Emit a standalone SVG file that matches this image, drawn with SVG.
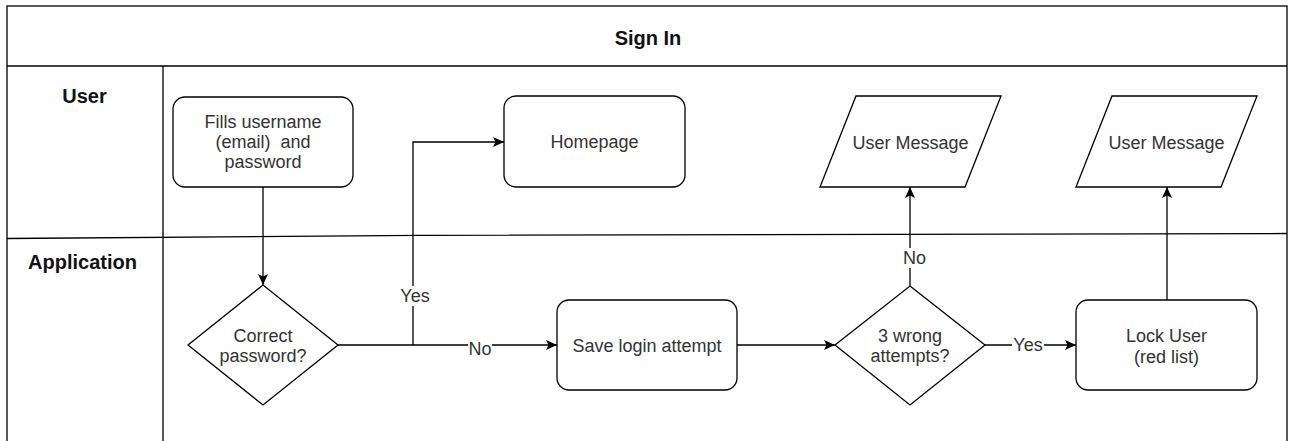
<svg xmlns="http://www.w3.org/2000/svg" width="1293" height="441" viewBox="0 0 1293 441">
<style>
.frame{fill:none;stroke:#000;stroke-width:1.3}
.shape{fill:#fff;stroke:#000;stroke-width:1.3}
.edge{fill:none;stroke:#000;stroke-width:1.3}
.lane{font-family:"Liberation Sans",Arial,sans-serif;font-size:20px;font-weight:bold;fill:#111;text-anchor:middle}
.lbl{font-family:"Liberation Sans",Arial,sans-serif;font-size:18px;fill:#333;text-anchor:middle;white-space:pre}
.bg{fill:#fff}
</style>
<defs>
<marker id="arr" markerUnits="userSpaceOnUse" markerWidth="12" markerHeight="10" refX="11" refY="5" orient="auto">
<path d="M0,0 L11,5 L0,10 L2.5,5 Z" fill="#000"/>
</marker>
</defs>
<g id="pool">
<rect class="frame" x="7" y="6" width="1280" height="445"/>
<line class="frame" x1="7" y1="66" x2="1287" y2="66"/>
<line class="frame" x1="163" y1="66" x2="163" y2="451"/>
<polyline class="frame" points="7,238.5 420,235.3 1287,233.5"/>
<text class="lane" x="648" y="45">Sign In</text>
<text class="lane" x="84.5" y="103">User</text>
<text class="lane" x="82.5" y="269">Application</text>
</g>
<g id="connectors">
<path class="edge" d="M263,187 V285" marker-end="url(#arr)"/>
<path class="edge" d="M338,345 H413 V142 H504" marker-end="url(#arr)"/>
<path class="edge" d="M413,345 H557" marker-end="url(#arr)"/>
<path class="edge" d="M737,345 H835" marker-end="url(#arr)"/>
<path class="edge" d="M910,286 V187" marker-end="url(#arr)"/>
<path class="edge" d="M985,345 H1076" marker-end="url(#arr)"/>
<path class="edge" d="M1167,300 V187" marker-end="url(#arr)"/>
<rect class="bg" x="399" y="286" width="32" height="20"/>
<text class="lbl" x="415" y="302">Yes</text>
<rect class="bg" x="468" y="338" width="24" height="20"/>
<text class="lbl" x="480" y="355">No</text>
<rect class="bg" x="902" y="248" width="24" height="20"/>
<text class="lbl" x="914.5" y="264">No</text>
<rect class="bg" x="1012" y="335" width="32" height="20"/>
<text class="lbl" x="1028" y="351">Yes</text>
</g>
<g id="fills">
<rect class="shape" x="173" y="97" width="180" height="90" rx="12"/>
<text class="lbl" x="263" y="128">Fills username</text>
<text class="lbl" x="263" y="148">(email)  and</text>
<text class="lbl" x="263" y="168">password</text>
</g>
<g id="homepage">
<rect class="shape" x="504" y="96" width="181" height="91" rx="12"/>
<text class="lbl" x="594.5" y="148">Homepage</text>
</g>
<g id="correct">
<polygon class="shape" points="263,285 338,345 263,405 188,345"/>
<text class="lbl" x="263" y="342">Correct</text>
<text class="lbl" x="263" y="362">password?</text>
</g>
<g id="save">
<rect class="shape" x="557" y="300" width="180" height="90" rx="12"/>
<text class="lbl" x="647" y="352">Save login attempt</text>
</g>
<g id="wrong">
<polygon class="shape" points="910,286 985,345 910,405 835,345"/>
<text class="lbl" x="910" y="342">3 wrong</text>
<text class="lbl" x="910" y="362">attempts?</text>
</g>
<g id="lock">
<rect class="shape" x="1076" y="300" width="181" height="90" rx="12"/>
<text class="lbl" x="1166.5" y="342">Lock User</text>
<text class="lbl" x="1166.5" y="363">(red list)</text>
</g>
<g id="msg1">
<polygon class="shape" points="856,96 1001,96 965,187 820,187"/>
<text class="lbl" x="910.5" y="149">User Message</text>
</g>
<g id="msg2">
<polygon class="shape" points="1112,96 1257,96 1221,187 1076,187"/>
<text class="lbl" x="1166.5" y="149">User Message</text>
</g>
</svg>
